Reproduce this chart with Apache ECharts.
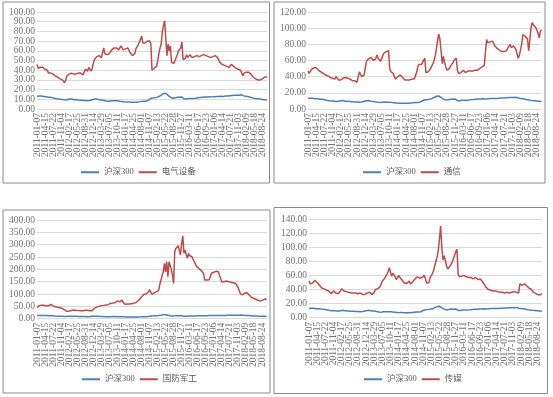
<!DOCTYPE html>
<html>
<head>
<meta charset="utf-8">
<title>行业估值 vs 沪深300</title>
<script src="https://cdn.jsdelivr.net/npm/echarts@6/dist/echarts.min.js"></script>
<style>
    html, body { margin: 0; padding: 0; background: #fff; }
    #main { width: 553px; height: 397px; }
</style>
</head>
<body>
<div id="main"></div>
<script>
// 横轴刻度（每7个点显示一个，双周数据）
var tickLabels = ['2011-01-07', '2011-04-15', '2011-07-22', '2011-11-04', '2012-02-17', '2012-05-25',
    '2012-08-31', '2012-12-14', '2013-03-29', '2013-07-05', '2013-10-11', '2014-01-17', '2014-04-25',
    '2014-08-01', '2014-11-07', '2015-02-13', '2015-05-22', '2015-08-28', '2015-11-27', '2016-03-11',
    '2016-06-17', '2016-09-23', '2017-01-06', '2017-04-14', '2017-07-21', '2017-11-03', '2018-02-09',
    '2018-05-18', '2018-08-24'];

// 沪深300（四张图共用）
var hs300 = [
    13.2, 13.0, 13.4, 13.1, 13.3, 13.0, 12.8, 12.9, 12.7, 12.4,
    12.2, 12.5, 12.0, 11.7, 11.5, 11.2, 10.8, 10.5, 10.2, 10.4,
    10.0, 10.2, 9.8, 9.6, 9.4, 9.2, 9.5, 10.0, 10.3, 10.1,
    10.4, 9.9, 9.6, 9.7, 9.5, 9.4, 9.2, 9.0, 9.1, 8.8,
    8.7, 8.9, 8.8, 8.6, 8.4, 8.5, 8.7, 9.2, 9.6, 10.0,
    10.3, 10.1, 10.4, 9.9, 9.6, 9.3, 9.4, 9.1, 8.8, 8.5,
    8.2, 8.0, 7.9, 8.1, 8.3, 8.5, 8.6, 8.4, 8.5, 8.6,
    8.4, 8.2, 8.0, 7.9, 7.7, 7.5, 7.4, 7.3, 7.2, 7.4,
    7.2, 7.1, 7.0, 7.1, 7.0, 7.1, 7.0, 7.2, 7.3, 7.4,
    7.6, 7.8, 8.0, 8.2, 8.0, 8.1, 8.4, 9.0, 10.2, 11.0,
    11.4, 11.2, 11.5, 11.8, 12.0, 12.3, 12.8, 13.5, 14.2, 15.0,
    15.8, 16.8, 16.2, 15.0, 14.0, 13.0, 12.2, 11.4, 11.0, 11.2,
    11.5, 11.8, 12.2, 12.4, 12.0, 12.6, 12.4, 11.2, 10.3, 10.0,
    10.2, 10.6, 10.8, 10.7, 10.9, 11.0, 10.8, 10.9, 11.1, 11.4,
    11.6, 11.8, 11.9, 12.0, 12.1, 12.2, 12.3, 12.4, 12.3, 12.5,
    12.6, 12.4, 12.5, 12.6, 12.7, 12.8, 12.9, 13.0, 12.9, 13.0,
    13.1, 13.1, 13.0, 13.2, 13.3, 13.4, 13.5, 13.6, 13.7, 13.8,
    13.9, 14.0, 14.1, 14.0, 14.2, 14.3, 14.1, 14.4, 14.6, 13.9,
    13.5, 13.3, 13.1, 12.9, 12.6, 12.3, 12.0, 11.8, 11.4, 11.1,
    10.9, 10.7, 10.5, 10.3, 10.2, 10.0, 9.9, 9.7, 9.6, 9.4,
    9.3
];

// 电气设备
var dianqi = [
    46, 42, 42, 43, 43, 43, 42, 41, 41, 40,
    37, 36, 37, 37, 36, 35, 34, 34, 33, 32,
    31, 31, 30, 29, 27, 30, 34, 35, 36, 37,
    37, 36, 36, 35, 36, 36, 37, 36, 37, 36,
    35, 35, 41, 39, 39, 43, 41, 39, 42, 47,
    51, 53, 54, 55, 55, 54, 53, 53, 63, 57,
    56, 56, 56, 57, 59, 61, 62, 63, 64, 63,
    62, 61, 62, 65, 63, 61, 61, 62, 64, 63,
    61, 58, 57, 55, 55, 57, 62, 64, 66, 67,
    72, 75, 68, 67, 68, 68, 70, 71, 70, 67,
    40, 39, 42, 43, 44, 50, 57, 63, 67, 80,
    86, 91, 73, 55, 67, 60, 65, 48, 46, 47,
    50, 53, 56, 60, 58, 63, 69, 51, 49, 52,
    56, 53, 55, 56, 54, 53, 53, 54, 55, 55,
    54, 54, 53, 55, 56, 56, 55, 55, 54, 54,
    53, 53, 54, 54, 55, 55, 55, 53, 51, 48,
    47, 46, 46, 45, 45, 44, 44, 43, 44, 46,
    45, 44, 43, 42, 42, 41, 40, 40, 39, 34,
    37, 39, 38, 38, 38, 37, 36, 35, 33, 32,
    31, 30, 30, 31, 30, 30, 31, 32, 33, 34,
    33
];

// 通信
var tongxin = [
    47, 44, 46, 49, 50, 51, 50, 51, 50, 48,
    47, 46, 45, 44, 43, 42, 43, 41, 40, 39,
    40, 38, 39, 37, 40, 38, 36, 35, 36, 37,
    38, 40, 39, 37, 38, 36, 37, 36, 35, 34,
    35, 33, 33, 32, 46, 43, 40, 39, 42, 50,
    59, 61, 62, 63, 64, 65, 60, 58, 62, 67,
    63, 61, 59, 62, 66, 69, 70, 71, 73, 72,
    50, 46, 48, 44, 40, 37, 38, 40, 42, 42,
    40, 39, 37, 36, 35, 36, 35, 36, 38, 37,
    38, 37, 39, 45, 52, 55, 54, 55, 57, 60,
    63, 45, 44, 46, 47, 50, 53, 56, 60, 66,
    75, 85, 93, 86, 72, 56, 65, 58, 52, 48,
    47, 50, 53, 55, 57, 60, 62, 63, 48, 44,
    46, 45, 47, 48, 46, 45, 46, 47, 46, 47,
    48, 47, 48, 48, 49, 48, 49, 50, 51, 52,
    53, 54, 52, 86, 82, 80, 83, 85, 84, 82,
    78, 76, 75, 74, 73, 74, 71, 70, 71, 73,
    72, 75, 77, 80, 76, 74, 78, 76, 74, 72,
    63, 66, 68, 80, 92, 91, 90, 91, 87, 72,
    85, 100, 107, 104, 103, 101, 100, 94, 88, 96,
    98
];

// 国防军工
var guofang = [
    46, 50, 53, 56, 55, 54, 55, 53, 52, 51,
    52, 55, 58, 55, 52, 49, 48, 47, 46, 45,
    44, 43, 42, 40, 36, 28, 30, 31, 31, 32,
    33, 34, 35, 34, 33, 32, 33, 32, 32, 31,
    32, 33, 34, 33, 34, 33, 32, 32, 32, 36,
    42, 45, 47, 49, 50, 51, 53, 52, 54, 55,
    56, 58, 57, 59, 62, 61, 64, 66, 65, 68,
    72, 70, 68, 70, 76, 66, 60, 58, 57, 60,
    62, 60, 61, 62, 62, 63, 66, 68, 72, 76,
    80, 88, 96, 98, 96, 100, 103, 108, 118, 120,
    99, 102, 105, 107, 110, 112, 115, 140, 157, 175,
    190, 224, 190, 231, 170, 231, 238, 200, 177, 143,
    272, 285, 292, 296, 299, 258, 305, 336, 265, 278,
    260, 245, 265, 255, 247, 251, 240, 231, 238, 211,
    206, 204, 204, 195, 190, 184, 157, 160, 157, 157,
    158, 159, 184, 186, 188, 190, 192, 193, 190, 175,
    163, 150, 152, 150, 153, 153, 151, 150, 150, 148,
    150, 146, 148, 143, 136, 128, 120, 103, 100, 96,
    103, 104, 105, 105, 99, 95, 89, 86, 84, 82,
    80, 78, 76, 74, 73, 72, 74, 76, 78, 80,
    79
];

// 传媒
var chuanmei = [
    52, 48, 47, 49, 51, 53, 51, 50, 48, 46,
    44, 42, 42, 41, 40, 39, 39, 38, 37, 34,
    35, 38, 37, 35, 35, 34, 35, 38, 41, 42,
    38, 37, 37, 36, 36, 36, 35, 35, 35, 36,
    35, 35, 34, 34, 35, 34, 33, 32, 33, 34,
    35, 36, 36, 35, 33, 34, 36, 40, 42, 41,
    40, 44, 48, 52, 54, 56, 59, 62, 66, 71,
    64, 59, 63, 61, 58, 54, 52, 60, 57, 55,
    53, 51, 49, 48, 49, 51, 52, 48, 49, 51,
    53, 55, 57, 58, 57, 56, 55, 57, 59, 60,
    55, 49, 47, 50, 57, 60, 63, 67, 74, 80,
    86, 96, 112, 130, 100, 82, 88, 86, 74, 69,
    68, 73, 76, 79, 84, 89, 94, 97, 62, 58,
    60, 59, 58, 60, 59, 58, 59, 57, 58, 57,
    56, 55, 56, 57, 55, 54, 53, 55, 53, 51,
    50, 46, 43, 41, 40, 39, 39, 38, 38, 38,
    38, 37, 37, 37, 36, 36, 36, 35, 35, 35,
    36, 36, 35, 35, 36, 36, 37, 37, 36, 35,
    35, 48, 50, 46, 47, 48, 46, 45, 44, 42,
    41, 40, 37, 36, 35, 34, 33, 31, 32, 34,
    34
];

var sectorNames = ['电气设备', '通信', '国防军工', '传媒'];
var yMax = [100, 120, 400, 140];
var yStep = [10, 20, 50, 20];

;(function (window) {
    "use strict";

    var BLUE = '#4a7ebb', RED = '#be4b48', LABEL = '#737373';
    var NUM_FONT = "'Liberation Serif', 'Noto Sans CJK SC', serif";
    var TICK_EVERY = 7;

    // 类目：刻度日期之间按两周补齐
    function buildCategories(n) {
        var list = [];
        for (var i = 0; i < n; i++) {
            var k = Math.min(Math.floor(i / TICK_EVERY), tickLabels.length - 1);
            var off = i - k * TICK_EVERY;
            if (off === 0) { list.push(tickLabels[k]); continue; }
            var p = tickLabels[k].split('-');
            var d = new Date(Date.UTC(+p[0], +p[1] - 1, +p[2]) + off * 14 * 86400000);
            var mm = ('0' + (d.getUTCMonth() + 1)).slice(-2), dd = ('0' + d.getUTCDate()).slice(-2);
            list.push(d.getUTCFullYear() + '-' + mm + '-' + dd);
        }
        return list;
    }

    var categories = buildCategories(hs300.length);
    var sectors = [dianqi, tongxin, guofang, chuanmei];
    var lastTick = (tickLabels.length - 1) * TICK_EVERY;

    // 四个面板的位置
    var grids = [
        {left: 37, top: 12, width: 230, height: 97},
        {left: 308, top: 12, width: 233.5, height: 97},
        {left: 37, top: 220, width: 229.6, height: 98.7},
        {left: 309, top: 219, width: 233, height: 98.7}
    ];
    var legendPos = [
        {left: 81, top: 168}, {left: 363, top: 168},
        {left: 82, top: 375}, {left: 364, top: 375}
    ];
    var frames = [
        {x: 3, y: 2, width: 266.5, height: 181},
        {x: 274, y: 2, width: 271, height: 181},
        {x: 3, y: 210, width: 267, height: 183},
        {x: 274, y: 207.5, width: 273.5, height: 186}
    ];

    // 横轴：标签太密，拆成两根重叠的轴（奇偶刻度各一根），避免被自动隐藏
    function makeXAxis(gridIndex, parity, main) {
        return {
            type: 'category', gridIndex: gridIndex, position: 'bottom', offset: 0,
            data: categories, boundaryGap: false,
            axisLine: {show: main, lineStyle: {color: '#d9d9d9', width: 1}},
            axisTick: {show: false}, splitLine: {show: false},
            axisLabel: {
                rotate: 90, margin: 4, color: LABEL,
                fontFamily: NUM_FONT, fontSize: 9.5,
                showMinLabel: true, showMaxLabel: true,
                interval: function (idx) {
                    return idx % (TICK_EVERY * 2) === parity * TICK_EVERY && idx <= lastTick;
                }
            }
        };
    }

    var option = {
        animation: false,
        backgroundColor: '#fff',
        grid: [], xAxis: [], yAxis: [], legend: [], series: [],
        graphic: []
    };

    for (var i = 0; i < 4; i++) {
        var g = grids[i];
        option.grid.push({left: g.left, top: g.top, width: g.width, height: g.height,
            containLabel: false, outerBoundsMode: 'none'});
        option.xAxis.push(makeXAxis(i, 0, true));
        option.xAxis.push(makeXAxis(i, 1, false));
        option.yAxis.push({
            type: 'value', gridIndex: i, min: 0, max: yMax[i], interval: yStep[i],
            axisLine: {show: false}, axisTick: {show: false},
            splitLine: {lineStyle: {color: '#d9d9d9', width: 1}},
            axisLabel: {margin: 2, color: LABEL, fontFamily: NUM_FONT, fontSize: 9.5,
                formatter: function (v) { return v.toFixed(2); }}
        });
        option.series.push({
            name: '沪深300', type: 'line', xAxisIndex: i * 2, yAxisIndex: i, data: hs300,
            showSymbol: false, symbol: 'none', color: BLUE, lineStyle: {color: BLUE, width: 1.5}
        });
        option.series.push({
            name: sectorNames[i], type: 'line', xAxisIndex: i * 2, yAxisIndex: i, data: sectors[i],
            showSymbol: false, symbol: 'none', color: RED, lineStyle: {color: RED, width: 1.5}
        });
        option.legend.push({
            left: legendPos[i].left, top: legendPos[i].top, orient: 'horizontal', padding: 0,
            data: ['沪深300', sectorNames[i]], icon: 'rect', itemWidth: 18, itemHeight: 2,
            itemGap: 5, selectedMode: false,
            textStyle: {color: '#595959', fontSize: 8.5, fontFamily: NUM_FONT}
        });
        option.graphic.push({
            type: 'rect', shape: frames[i], silent: true,
            style: {fill: 'none', stroke: '#8a8a8a', lineWidth: 1}
        });
    }

    var chart = echarts.init(document.getElementById('main'), null, {renderer: 'canvas'});
    chart.setOption(option);
})(window);
</script>
</body>
</html>
